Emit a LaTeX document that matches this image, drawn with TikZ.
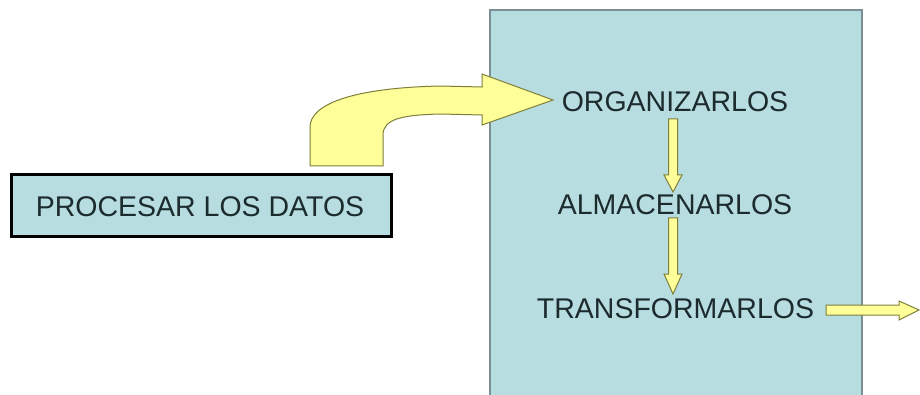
\documentclass[tikz,border=0pt]{standalone}
\usepackage{fontspec}
\setmainfont{Liberation Sans}
\definecolor{boxblue}{HTML}{B8DDE0}
\definecolor{boxedge}{HTML}{7A8F94}
\definecolor{ayellow}{HTML}{FFFF99}
\definecolor{aolive}{HTML}{7F7F3A}
\definecolor{txt}{HTML}{1C2B2E}
\begin{document}
\begin{tikzpicture}[x=1pt,y=-1pt,
  yarrow/.style={fill=ayellow, draw=aolive, line width=1pt, line join=miter},
  lbl/.style={text=txt, inner sep=0pt, anchor=base, font=\fontsize{28.5}{34}\selectfont}]
\useasboundingbox (0,0) rectangle (920,395);
\clip (0,0) rectangle (920,395);
\fill[white] (0,0) rectangle (920,395);
% big box
\draw[fill=boxblue, draw=boxedge, line width=1.3pt] (490,10) rectangle (862,420);
% procesar box
\draw[fill=boxblue, draw=black, line width=3pt] (11.5,174.5) rectangle (391.5,236.5);
\node[lbl] (proc) at (200,217) {PROCESAR LOS DATOS};
% texts
\node[lbl] (org) at (675,112) {ORGANIZARLOS};
\node[lbl] (alm) at (675,215) {ALMACENARLOS};
\node[lbl] (tra) at (675.5,318) {TRANSFORMARLOS};
% curved arrow from procesar box to ORGANIZARLOS
\draw[yarrow] (310,166) -- (310,127) .. controls (310,105) and (350,88) .. (440,86)
  -- (482,87) -- (482,74) -- (553,100) -- (482,125) -- (482,115) -- (440,114)
  .. controls (405,115) and (383,118) .. (383,135) -- (383,166) -- cycle;
% vertical arrows
\draw[yarrow] (668.5,119) -- (677.5,119) -- (677.5,175) -- (682,175) -- (673,192)
  -- (664,175) -- (668.5,175) -- cycle;
\draw[yarrow] (668.5,218) -- (677.5,218) -- (677.5,274) -- (682,274) -- (673,294)
  -- (664,274) -- (668.5,274) -- cycle;
% output arrow
\draw[yarrow] (826,305) -- (899,305) -- (899,301) -- (919,310) -- (899,320)
  -- (899,315) -- (826,315) -- cycle;
\end{tikzpicture}
\end{document}
